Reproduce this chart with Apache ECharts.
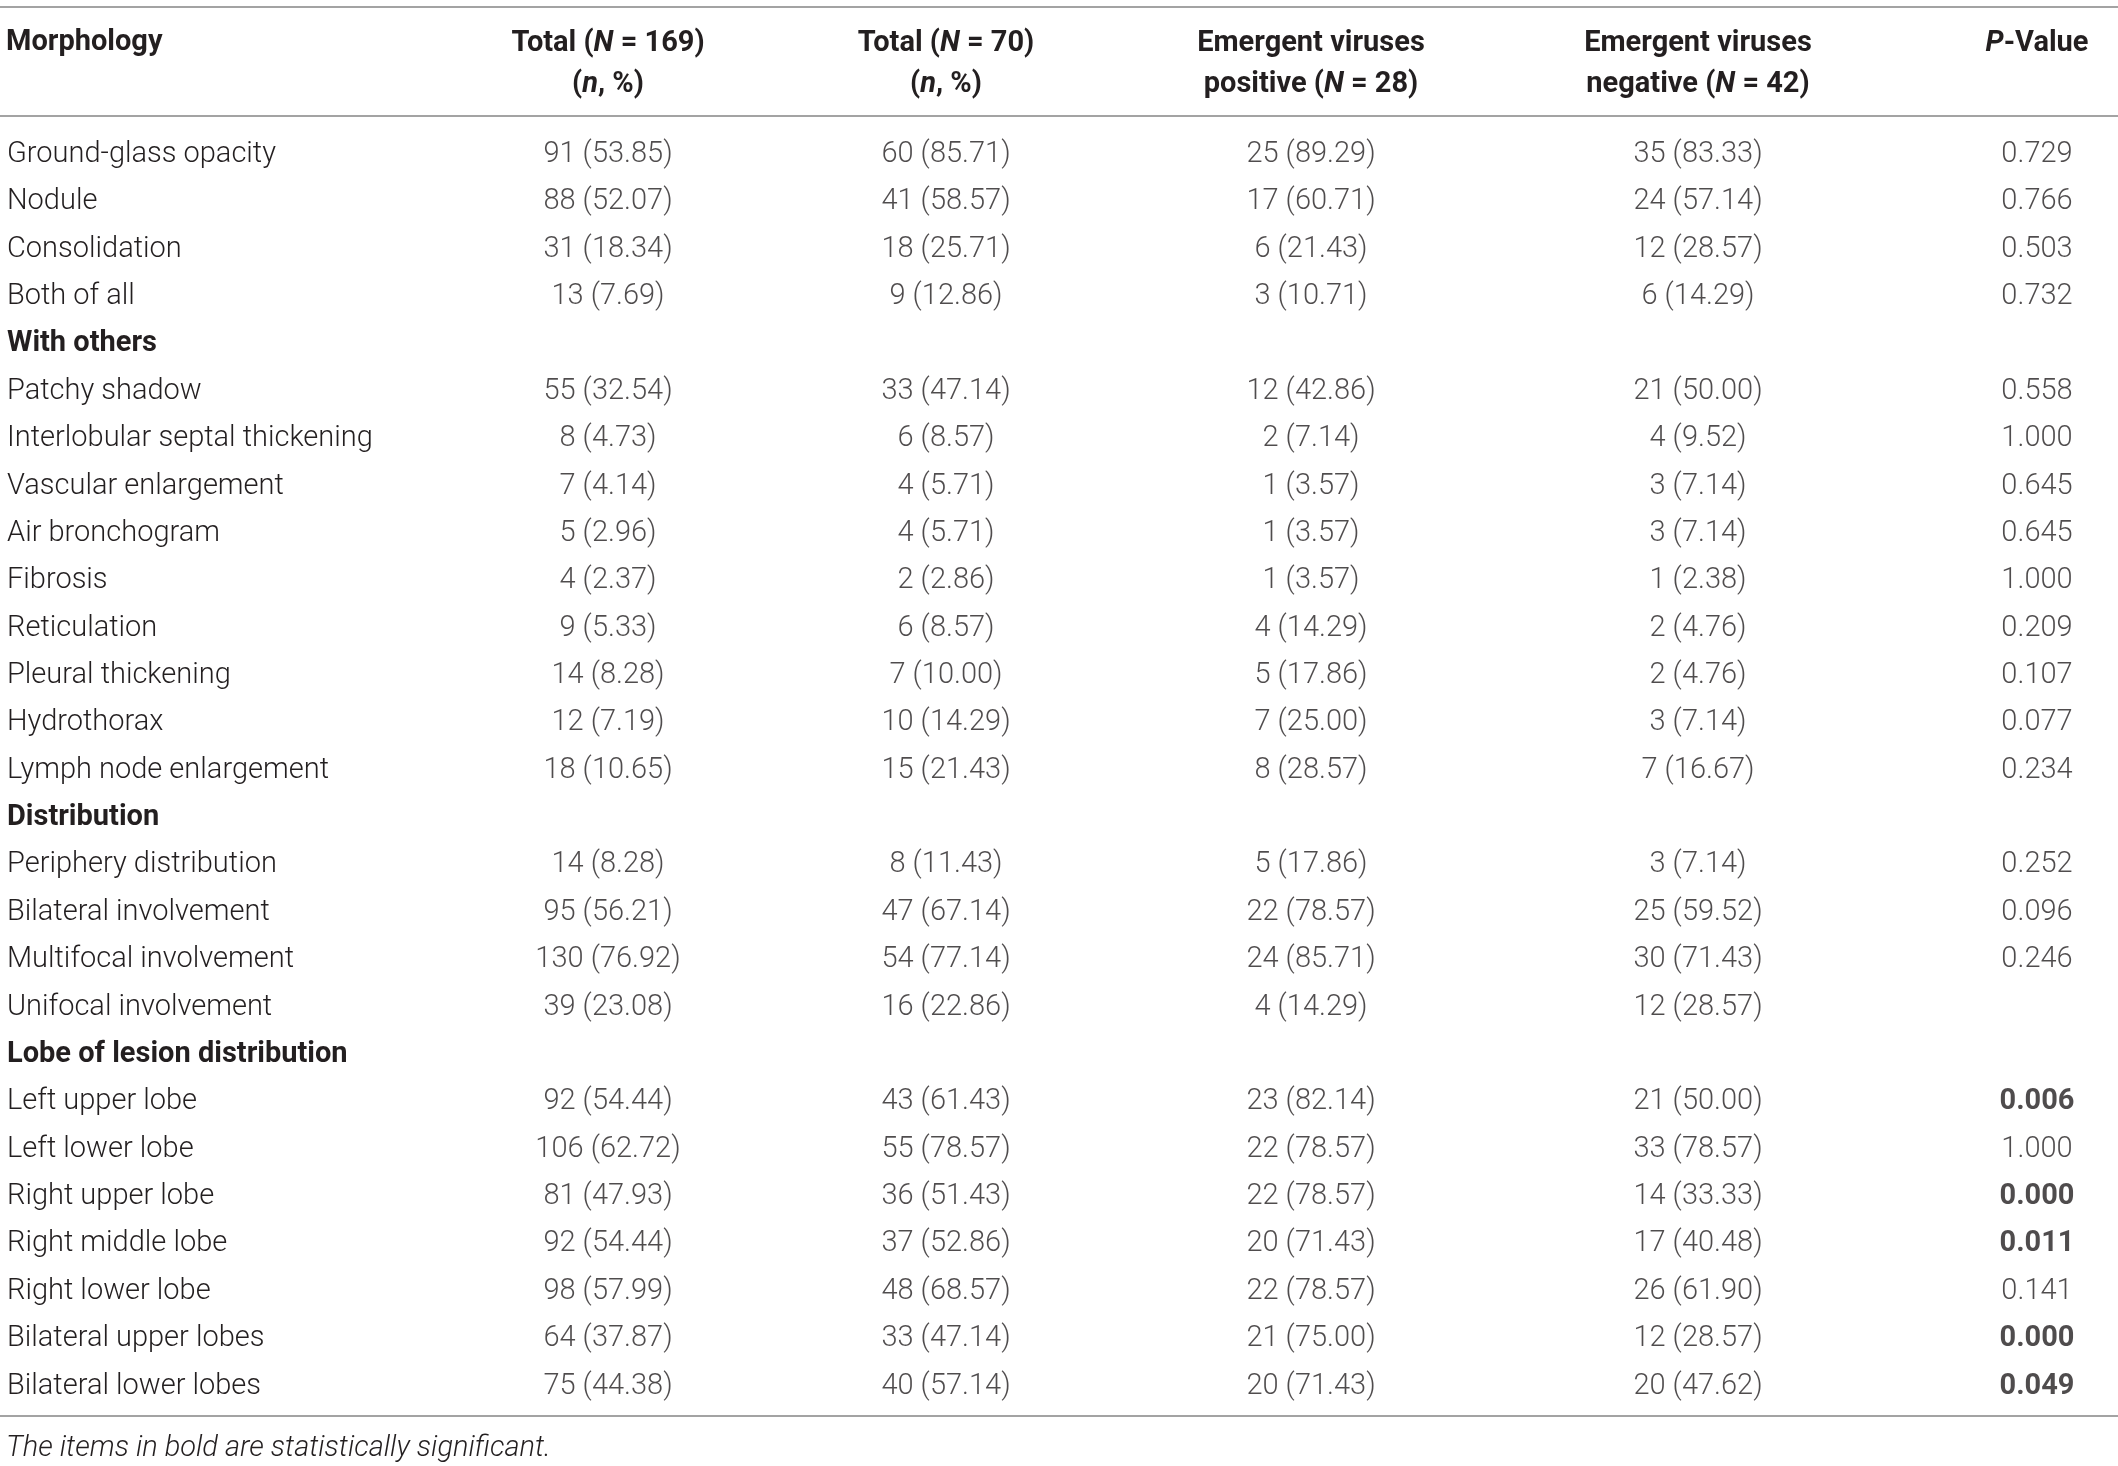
<!DOCTYPE html>
<html>
<head>
<meta charset="utf-8">
<script src="https://cdn.jsdelivr.net/npm/echarts@6/dist/echarts.min.js"></script>
<style>
  html, body { margin: 0; padding: 0; background: #fff; }
  #main { width: 2118px; height: 1466px; }
</style>
</head>
<body>
<div id="main"></div>
<script>
// table content
const rowNames = ['Ground-glass opacity', 'Nodule', 'Consolidation', 'Both of all', 'With others',
  'Patchy shadow', 'Interlobular septal thickening', 'Vascular enlargement', 'Air bronchogram', 'Fibrosis',
  'Reticulation', 'Pleural thickening', 'Hydrothorax', 'Lymph node enlargement', 'Distribution',
  'Periphery distribution', 'Bilateral involvement', 'Multifocal involvement', 'Unifocal involvement',
  'Lobe of lesion distribution', 'Left upper lobe', 'Left lower lobe', 'Right upper lobe',
  'Right middle lobe', 'Right lower lobe', 'Bilateral upper lobes', 'Bilateral lower lobes'];
const sectionRows = ['With others', 'Distribution', 'Lobe of lesion distribution'];
const significantRows = ['Left upper lobe', 'Right upper lobe', 'Right middle lobe', 'Bilateral upper lobes', 'Bilateral lower lobes'];

const total169 = ['91 (53.85)', '88 (52.07)', '31 (18.34)', '13 (7.69)', '',
  '55 (32.54)', '8 (4.73)', '7 (4.14)', '5 (2.96)', '4 (2.37)', '9 (5.33)', '14 (8.28)', '12 (7.19)', '18 (10.65)', '',
  '14 (8.28)', '95 (56.21)', '130 (76.92)', '39 (23.08)', '',
  '92 (54.44)', '106 (62.72)', '81 (47.93)', '92 (54.44)', '98 (57.99)', '64 (37.87)', '75 (44.38)'];
const total70 = ['60 (85.71)', '41 (58.57)', '18 (25.71)', '9 (12.86)', '',
  '33 (47.14)', '6 (8.57)', '4 (5.71)', '4 (5.71)', '2 (2.86)', '6 (8.57)', '7 (10.00)', '10 (14.29)', '15 (21.43)', '',
  '8 (11.43)', '47 (67.14)', '54 (77.14)', '16 (22.86)', '',
  '43 (61.43)', '55 (78.57)', '36 (51.43)', '37 (52.86)', '48 (68.57)', '33 (47.14)', '40 (57.14)'];
const virusPositive = ['25 (89.29)', '17 (60.71)', '6 (21.43)', '3 (10.71)', '',
  '12 (42.86)', '2 (7.14)', '1 (3.57)', '1 (3.57)', '1 (3.57)', '4 (14.29)', '5 (17.86)', '7 (25.00)', '8 (28.57)', '',
  '5 (17.86)', '22 (78.57)', '24 (85.71)', '4 (14.29)', '',
  '23 (82.14)', '22 (78.57)', '22 (78.57)', '20 (71.43)', '22 (78.57)', '21 (75.00)', '20 (71.43)'];
const virusNegative = ['35 (83.33)', '24 (57.14)', '12 (28.57)', '6 (14.29)', '',
  '21 (50.00)', '4 (9.52)', '3 (7.14)', '3 (7.14)', '1 (2.38)', '2 (4.76)', '2 (4.76)', '3 (7.14)', '7 (16.67)', '',
  '3 (7.14)', '25 (59.52)', '30 (71.43)', '12 (28.57)', '',
  '21 (50.00)', '33 (78.57)', '14 (33.33)', '17 (40.48)', '26 (61.90)', '12 (28.57)', '20 (47.62)'];
const pValues = ['0.729', '0.766', '0.503', '0.732', '',
  '0.558', '1.000', '0.645', '0.645', '1.000', '0.209', '0.107', '0.077', '0.234', '',
  '0.252', '0.096', '0.246', '', '',
  '0.006', '1.000', '0.000', '0.011', '0.141', '0.000', '0.049'];

const headers = ['Total ({i|N} = 169)\n({i|n}, %)', 'Total ({i|N} = 70)\n({i|n}, %)',
  'Emergent viruses\npositive ({i|N} = 28)', 'Emergent viruses\nnegative ({i|N} = 42)', '{i|P}-Value\n '];
const columns = [total169, total70, virusPositive, virusNegative, pValues];
const footnote = 'The items in bold are statistically significant.';

// layout
const W = 2118;
const colCenters = [608, 946, 1311, 1698, 2037];
const colWidth = 120;
const bodyTop = 131, bodyBottom = 56;
const FONT = 'Roboto';
const FS = 29;
const INK = '#231f20';
const RULE = '#a3a3a3';

const chart = echarts.init(document.getElementById('main'), null, { renderer: 'canvas' });

const grids = [{ left: 7, top: bodyTop, width: 500, bottom: bodyBottom }];
const xAxes = [{ gridIndex: 0, type: 'value', min: 0, max: 1, show: false }];
const yAxes = [{
  gridIndex: 0, type: 'category', data: rowNames, inverse: true,
  axisLine: { show: false }, axisTick: { show: false }, splitLine: { show: false },
  axisLabel: {
    inside: true, margin: 0, interval: 0, fontFamily: FONT, fontSize: FS, color: INK,
    formatter: v => sectionRows.includes(v) ? '{b|' + v + '}' : '{n|' + v + '}',
    rich: {
      b: { fontFamily: FONT, fontSize: FS, fontWeight: 'bold', color: INK },
      n: { fontFamily: FONT, fontSize: FS, fontWeight: 300, color: INK }
    }
  }
}];
const series = [];

columns.forEach((col, c) => {
  const g = c + 1;
  grids.push({ left: colCenters[c] - colWidth / 2, width: colWidth, top: bodyTop, bottom: bodyBottom });
  xAxes.push({
    gridIndex: g, type: 'category', data: [headers[c]], position: 'top',
    axisLine: { show: false }, axisTick: { show: false }, splitLine: { show: false },
    axisLabel: {
      margin: 26, interval: 0, fontFamily: FONT, fontSize: FS, fontWeight: 'bold', color: INK,
      lineHeight: 41,
      rich: { i: { fontFamily: FONT, fontSize: FS, fontWeight: 'bold', fontStyle: 'italic', color: INK, lineHeight: 41 } }
    }
  });
  yAxes.push({ gridIndex: g, type: 'category', data: rowNames, inverse: true, show: false });
  series.push({
    type: 'scatter', xAxisIndex: g, yAxisIndex: g, symbolSize: 0, silent: true,
    data: rowNames.map((r, i) => ({
      value: [headers[c], r],
      text: col[i],
      bold: c === 4 && significantRows.includes(r)
    })),
    label: {
      show: true, position: 'inside', fontFamily: FONT, fontSize: FS, color: INK,
      formatter: p => p.data.text ? (p.data.bold ? '{b|' + p.data.text + '}' : '{n|' + p.data.text + '}') : '',
      rich: {
        b: { fontFamily: FONT, fontSize: FS, fontWeight: 'bold', color: INK },
        n: { fontFamily: FONT, fontSize: FS, fontWeight: 300, color: INK }
      }
    }
  });
});

const rule = y => ({ type: 'line', shape: { x1: 0, y1: y, x2: W, y2: y }, style: { stroke: RULE, lineWidth: 2 }, silent: true });

chart.setOption({
  backgroundColor: '#fff',
  animation: false,
  title: [
    { text: 'Morphology', left: 1, top: 23, textStyle: { fontFamily: FONT, fontSize: FS, fontWeight: 'bold', color: INK } },
    { text: footnote, left: 1, top: 1429, textStyle: { fontFamily: FONT, fontSize: FS, fontWeight: 300, fontStyle: 'italic', color: INK } }
  ],
  grid: grids,
  xAxis: xAxes,
  yAxis: yAxes,
  series: series,
  graphic: [rule(7), rule(116), rule(1416)]
});
</script>
</body>
</html>
